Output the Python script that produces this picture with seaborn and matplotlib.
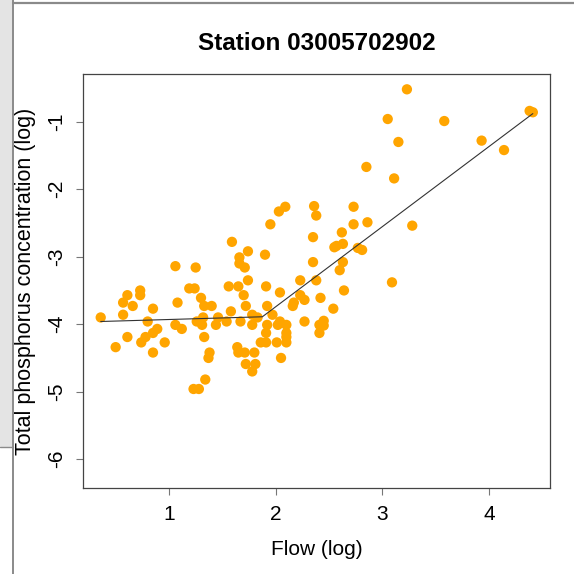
import matplotlib
matplotlib.use("Agg")
import matplotlib.pyplot as plt
import seaborn as sns
import pandas as pd
from matplotlib.patches import Rectangle
from matplotlib.lines import Line2D

# ---- data ----
flow_log = [
    0.36, 0.50, 0.57, 0.61, 0.57, 0.66, 0.61, 0.73, 0.73, 0.85,
    0.80, 0.74, 0.78, 0.85, 0.89, 0.85, 0.96, 1.06, 1.08, 1.06,
    1.12, 1.19, 1.24, 1.25, 1.30, 1.33, 1.40, 1.32, 1.26, 1.31,
    1.33, 1.38, 1.37, 1.34, 1.23, 1.28, 1.46, 1.44, 1.54, 1.58,
    1.59, 1.56, 1.65, 1.66, 1.66, 1.71, 1.74, 1.74, 1.70, 1.72,
    1.67, 1.78, 1.83, 1.78, 1.64, 1.65, 1.71, 1.80, 1.72, 1.81,
    1.78, 1.90, 1.95, 2.03, 2.09, 1.91, 1.92, 1.97, 2.04, 1.92,
    1.91, 1.86, 1.91, 2.01, 2.05, 2.04, 2.02, 2.10, 2.10, 2.10,
    2.10, 2.23, 2.23, 2.27, 2.16, 2.17, 2.27, 2.36, 2.38, 2.35,
    2.35, 2.38,
    3.23, 3.05, 3.58, 4.38, 4.41, 3.15, 3.93, 4.14, 2.85, 3.11,
    2.73, 2.73, 2.86, 2.62, 2.55, 2.57, 2.63, 2.77, 2.81, 3.28,
    2.63, 2.60, 3.09, 2.64, 2.42, 2.54, 2.45, 2.41, 2.45, 2.41,
]
tp_log = [
    -3.90, -4.34, -3.68, -3.57, -3.86, -3.73, -4.19, -3.50, -3.57, -3.77,
    -3.96, -4.27, -4.19, -4.13, -4.07, -4.42, -4.27, -3.14, -3.68, -4.01,
    -4.07, -3.47, -3.47, -3.16, -3.61, -3.73, -3.73, -3.90, -3.96, -4.01,
    -4.19, -4.42, -4.50, -4.82, -4.96, -4.96, -3.90, -4.01, -3.96, -3.81,
    -2.78, -3.44, -3.44, -3.01, -3.10, -3.16, -2.92, -3.35, -3.57, -3.73,
    -3.96, -3.86, -3.90, -4.01, -4.34, -4.42, -4.42, -4.42, -4.59, -4.59,
    -4.70, -2.97, -2.52, -2.33, -2.26, -3.44, -3.73, -3.86, -3.53, -4.01,
    -4.13, -4.27, -4.27, -4.27, -4.50, -3.96, -4.01, -4.01, -4.13, -4.19,
    -4.27, -3.35, -3.57, -3.64, -3.73, -3.68, -3.96, -2.25, -2.39, -2.71,
    -3.08, -3.35,
    -0.52, -0.96, -0.99, -0.84, -0.86, -1.30, -1.28, -1.42, -1.67, -1.84,
    -2.26, -2.52, -2.49, -2.64, -2.86, -2.84, -2.81, -2.87, -2.90, -2.54,
    -3.08, -3.20, -3.38, -3.50, -3.61, -3.77, -3.95, -4.01, -4.02, -4.13,
]
# broken-stick fit
fit_x = [0.36, 1.875, 4.41]
fit_y = [-3.96, -3.89, -0.88]

x_ticks = [1, 2, 3, 4]
y_ticks = [-6, -5, -4, -3, -2, -1]
title = "Station 03005702902"
xlabel = "Flow (log)"
ylabel = "Total phosphorus concentration (log)"

df = pd.DataFrame({"flow": flow_log, "tp": tp_log})
fit = pd.DataFrame({"flow": fit_x, "tp": fit_y})

sns.set_theme(style="white")
plt.rcParams["font.family"] = ["Liberation Sans", "DejaVu Sans"]

W = 574
fig = plt.figure(figsize=(5.74, 5.74), dpi=100)
ax = fig.add_axes([83 / W, 1 - 488 / W, (550 - 83) / W, (488 - 74) / W])

sns.scatterplot(data=df, x="flow", y="tp", ax=ax, color="#FFA500",
                s=55, linewidth=0, edgecolor="none", legend=False, zorder=3)
sns.lineplot(data=fit, x="flow", y="tp", ax=ax, color="#333333",
             linewidth=0.8, sort=False, estimator=None, legend=False, zorder=4)

ax.set_xlim(0.194, 4.571)
ax.set_ylim(-6.427, -0.293)
ax.set_xticks(x_ticks)
ax.set_yticks(y_ticks)
ax.set_xticklabels([str(t) for t in x_ticks])
ax.set_yticklabels([str(t) for t in y_ticks])

for sp in ax.spines.values():
    sp.set_visible(True)
    sp.set_color("#444444")
    sp.set_linewidth(0.9)

ax.tick_params(axis="both", which="major", direction="out", length=5,
               width=0.8, color="#777777", labelsize=15, labelcolor="black")
ax.tick_params(axis="x", pad=7, bottom=True)
ax.tick_params(axis="y", pad=7, left=True, labelrotation=90)
for lab in ax.get_yticklabels():
    lab.set_va("center")

ax.set_xlabel(xlabel, fontsize=15, labelpad=12, color="black")
ax.set_ylabel(ylabel, fontsize=15.5, labelpad=8, color="black")
ax.set_title(title, fontsize=17.5, fontweight="bold", pad=17.5, color="black")

# screenshot frame artifacts
fig.add_artist(Rectangle((0, 1 - 447 / W), 12 / W, 447 / W,
                         transform=fig.transFigure, facecolor="#e4e4e4",
                         edgecolor="none", zorder=0))
fig.add_artist(Line2D([13 / W, 13 / W], [0, 1], transform=fig.transFigure,
                      color="#8a8a8a", linewidth=1.4))
fig.add_artist(Line2D([13 / W, 1], [1 - 3 / W, 1 - 3 / W], transform=fig.transFigure,
                      color="#8a8a8a", linewidth=1.6))
fig.add_artist(Line2D([0, 13 / W], [1 - 447 / W, 1 - 447 / W], transform=fig.transFigure,
                      color="#8a8a8a", linewidth=1.0))

fig.savefig("out.png", dpi=100)
